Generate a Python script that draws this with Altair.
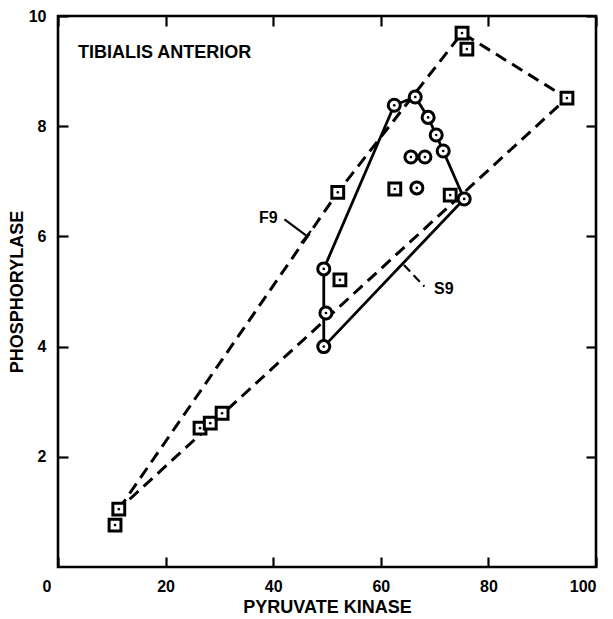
import altair as alt
import pandas as pd

# ---- data ----
x_ticks = [0, 20, 40, 60, 80, 100]
y_ticks = [2, 4, 6, 8, 10]

f9_x = [10.6, 11.3, 26.4, 28.3, 30.5, 52.0, 52.4, 75.1, 76.0, 94.6, 62.6, 72.9]
f9_y = [0.76, 1.05, 2.52, 2.61, 2.79, 6.80, 5.21, 9.69, 9.40, 8.51, 6.86, 6.75]
s9_x = [62.5, 66.4, 68.8, 70.3, 71.6, 65.6, 68.2, 66.7, 75.5, 49.4, 49.8, 49.4]
s9_y = [8.38, 8.53, 8.16, 7.84, 7.55, 7.44, 7.44, 6.88, 6.68, 5.41, 4.61, 4.00]

f9_hull_x = [11.3, 52.0, 75.1, 94.6, 11.3]
f9_hull_y = [1.05, 6.80, 9.69, 8.51, 1.05]
s9_hull_x = [49.4, 75.5, 71.6, 70.3, 68.8, 66.4, 62.5, 49.4, 49.4]
s9_hull_y = [4.00, 6.68, 7.55, 7.84, 8.16, 8.53, 8.38, 5.41, 4.00]

# leader lines: (start, end) pairs
leader_x = [42.1, 45.2, 64.3]
leader_y = [6.31, 5.88, 5.48]
leader_x2 = [46.1, 47.0, 68.1]
leader_y2 = [6.02, 6.10, 5.09]
leader_kind = ["F9", "F9bar", "S9"]

label_text = ["F9", "S9"]
label_x = [39.1, 71.7]
label_y = [6.33, 5.04]

title_text = "TIBIALIS ANTERIOR"
title_x = 3.7
title_y = 9.33

FONT = "Liberation Sans"
W, H = 538, 551
TICK_PX = 10

xs = alt.Scale(domain=[0, 100], nice=False, zero=False)
ys = alt.Scale(domain=[0, 10], nice=False, zero=False)

f9 = pd.DataFrame({"x": f9_x, "y": f9_y})
s9 = pd.DataFrame({"x": s9_x, "y": s9_y})
f9h = pd.DataFrame({"x": f9_hull_x, "y": f9_hull_y, "i": range(len(f9_hull_x))})
s9h = pd.DataFrame({"x": s9_hull_x, "y": s9_hull_y, "i": range(len(s9_hull_x))})
labs = pd.DataFrame({"t": label_text, "x": label_x, "y": label_y})
ttl = pd.DataFrame({"t": [title_text], "x": [title_x], "y": [title_y]})

def segments(pairs, prefix):
    rows = []
    for n, (x1, y1, x2, y2) in enumerate(pairs):
        rows.append({"id": f"{prefix}{n}", "x": x1, "y": y1, "i": 0})
        rows.append({"id": f"{prefix}{n}", "x": x2, "y": y2, "i": 1})
    return rows

solid_leaders = [(a, b, c, d) for a, b, c, d, k in zip(leader_x, leader_y, leader_x2, leader_y2, leader_kind) if k != "S9"]
dashed_leaders = [(a, b, c, d) for a, b, c, d, k in zip(leader_x, leader_y, leader_x2, leader_y2, leader_kind) if k == "S9"]
lead_solid = pd.DataFrame(segments(solid_leaders, "ls"))
lead_dash = pd.DataFrame(segments(dashed_leaders, "ld"))

# axes: offset inward by the tick length so the ticks point into the plot;
# zindex=1 draws them above the view background
common_axis = dict(
    domain=False, grid=False, ticks=True, tickSize=TICK_PX, offset=-TICK_PX,
    tickColor="black", tickWidth=2.2, zindex=1,
    labelFont=FONT, labelFontSize=16, labelFontWeight="bold", labelColor="black",
    titleFont=FONT, titleFontSize=18, titleFontWeight="bold", titleColor="black",
)

x_axis = alt.Axis(orient="bottom", values=x_ticks, title="PYRUVATE KINASE",
                  labelPadding=11, titlePadding=4, format="d",
                  labelOffset={"condition": {"test": "datum.value === 0", "value": -16}, "value": 0},
                  **common_axis)
y_axis = alt.Axis(orient="left", values=y_ticks, title="PHOSPHORYLASE",
                  labelPadding=12, titlePadding=2, format="d", **common_axis)
x_axis_top = alt.Axis(orient="top", values=x_ticks, title=None, labels=False, **common_axis)
y_axis_right = alt.Axis(orient="right", values=y_ticks, title=None, labels=False, **common_axis)

def enc(ch, xa=None, ya=None):
    return ch.encode(x=alt.X("x:Q", scale=xs, axis=xa), y=alt.Y("y:Q", scale=ys, axis=ya))

f9_line = enc(alt.Chart(f9h).mark_line(color="black", strokeWidth=3, strokeDash=[12, 7]),
              x_axis, y_axis).encode(order="i:Q")
s9_line = enc(alt.Chart(s9h).mark_line(color="black", strokeWidth=2.8),
              x_axis_top, y_axis_right).encode(order="i:Q")

leaders_s = enc(alt.Chart(lead_solid).mark_line(color="black", strokeWidth=2.2)).encode(
    detail="id:N", order="i:Q")
leaders_d = enc(alt.Chart(lead_dash).mark_line(color="black", strokeWidth=2.2, strokeDash=[9, 5])).encode(
    detail="id:N", order="i:Q")

sq = enc(alt.Chart(f9).mark_point(shape="square", filled=True, fill="white", stroke="black",
                                  strokeWidth=3, size=140, opacity=1))
ci = enc(alt.Chart(s9).mark_point(shape="circle", filled=True, fill="white", stroke="black",
                                  strokeWidth=3, size=145, opacity=1))
dots_f = enc(alt.Chart(f9).mark_point(shape="circle", filled=True, color="black", size=7, opacity=1))
dots_s = enc(alt.Chart(s9).mark_point(shape="circle", filled=True, color="black", size=7, opacity=1))

labels = enc(alt.Chart(labs).mark_text(font=FONT, fontSize=16, fontWeight="bold", color="black")).encode(
    text="t:N")

title = enc(alt.Chart(ttl).mark_text(font=FONT, fontSize=18, fontWeight="bold", color="black",
                                     align="left", baseline="middle")).encode(text="t:N")

chart = alt.layer(
    f9_line, s9_line, sq, ci, dots_f, dots_s, leaders_s, leaders_d, labels, title
).resolve_axis(x="independent", y="independent").properties(
    width=W, height=H, background="white", padding=0
).configure_view(stroke="black", strokeWidth=2.6)

chart.save("out.html", embed_options={"renderer": "svg", "actions": False})
